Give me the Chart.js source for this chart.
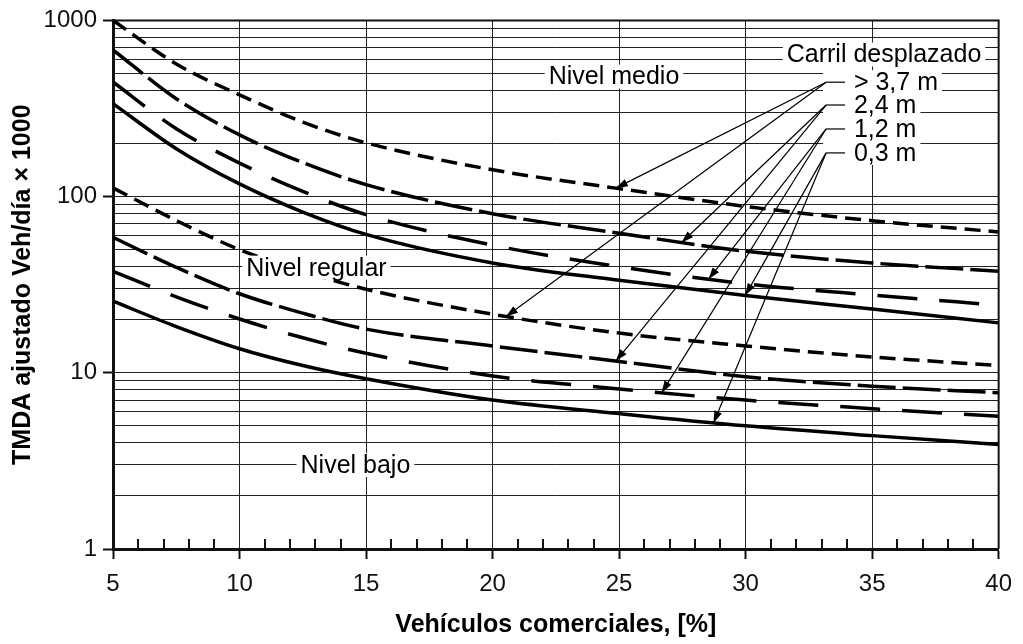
<!DOCTYPE html>
<html>
<head>
<meta charset="utf-8">
<script src="https://cdn.jsdelivr.net/npm/chart.js@4.4.1/dist/chart.umd.min.js"></script>
<style>
  html, body { margin: 0; padding: 0; background: #fff; }
  canvas { display: block; }
</style>
</head>
<body>
<canvas id="chart" width="1023" height="644"></canvas>
<script>
// ---------- values ----------
const commercialPct = [5, 7.5, 10, 12.5, 15, 20, 25, 30, 35, 40];

// upper family (limit Nivel medio / Nivel regular)
const upperOver37 = [1000, 566, 378, 265, 202, 142, 111, 88, 73, 63];
const upper24 = [680, 359, 224, 156, 117, 80, 62, 49, 42, 37.7];
const upper12 = [447, 243, 155, 107, 79, 53, 40, 32, 27.6, 24.2];
const upper03 = [337, 187, 118, 81.7, 61, 42, 33.5, 27.5, 23, 19.2];

// lower family (limit Nivel regular / Nivel bajo)
const lowerOver37 = [112, 73.2, 50, 37.7, 29.8, 21.5, 16.8, 14.2, 12.3, 11.0];
const lower24 = [58.7, 39.7, 28.1, 21.8, 17.7, 14.2, 11.6, 9.5, 8.4, 7.7];
const lower12 = [37.7, 27.0, 20.2, 15.8, 12.9, 9.6, 8.1, 7.0, 6.26, 5.67];
const lower03 = [25.5, 18.3, 13.7, 11.0, 9.25, 7.0, 5.87, 5.0, 4.4, 3.92];

const offsetNames = ['> 3,7 m', '2,4 m', '1,2 m', '0,3 m'];
const yGridValues = [1, 2, 3, 4, 5, 6, 7, 8, 9,
                     10, 20, 30, 40, 50, 60, 70, 80, 90,
                     100, 200, 300, 400, 500, 600, 700, 800, 900, 1000];
const yTickLabels = [1, 10, 100, 1000];
const xTickLabels = [5, 10, 15, 20, 25, 30, 35, 40];

const xTitle = 'Vehículos comerciales, [%]';
const yTitle = 'TMDA ajustado Veh/día × 1000';

// ---------- annotations (data coordinates) ----------
const levelLabels = [
    { text: 'Nivel medio', x: 24.8, y: 480 },
    { text: 'Nivel regular', x: 13.04, y: 39.5 },
    { text: 'Nivel bajo', x: 14.58, y: 3 },
    { text: 'Carril desplazado', x: 35.47, y: 640 }
];
const offsetLabelY = [446, 331, 242, 177];
const stubFromX = 33.18, stubToX = 33.93, offsetTextX = 34.28;
// arrow end points: x on the upper curve, x on the lower curve
const arrowTargetX = [[24.87, 20.53], [27.47, 24.87], [28.53, 26.68], [29.99, 28.73]];

const FONT = '"Liberation Sans", Arial, Helvetica, sans-serif';
Chart.defaults.font.family = FONT;
Chart.defaults.color = '#111';

const dashes = [[16, 8], [38, 7], [40, 22], []];
const families = [
    [upperOver37, upper24, upper12, upper03],
    [lowerOver37, lower24, lower12, lower03]
];

const datasets = [];
families.forEach((fam, f) => {
    fam.forEach((vals, k) => {
        datasets.push({
            label: (f === 0 ? 'Medio/Regular ' : 'Regular/Bajo ') + offsetNames[k],
            data: commercialPct.map((x, i) => ({ x, y: vals[i] })),
            borderColor: '#000',
            borderWidth: 3.5,
            borderDash: dashes[k],
            pointRadius: 0,
            fill: false,
            cubicInterpolationMode: 'monotone'
        });
    });
});

function cubic(p0, p1, p2, p3, t) {
    const u = 1 - t;
    return u * u * u * p0 + 3 * u * u * t * p1 + 3 * u * t * t * p2 + t * t * t * p3;
}

// y pixel of the drawn curve at a given x value
function curveY(chart, dsIndex, xVal) {
    const px = chart.scales.x.getPixelForValue(xVal);
    const pts = chart.getDatasetMeta(dsIndex).data;
    for (let i = 0; i < pts.length - 1; i++) {
        const a = pts[i], b = pts[i + 1];
        if (px >= a.x && px <= b.x) {
            let lo = 0, hi = 1;
            for (let n = 0; n < 40; n++) {
                const m = (lo + hi) / 2;
                if (cubic(a.x, a.cp2x, b.cp1x, b.x, m) < px) lo = m; else hi = m;
            }
            const t = (lo + hi) / 2;
            return { x: px, y: cubic(a.y, a.cp2y, b.cp1y, b.y, t) };
        }
    }
    return { x: px, y: chart.scales.y.getPixelForValue(1) };
}

function labelBox(ctx, text, x, y, align, extraLeft) {
    const w = ctx.measureText(text).width;
    const left = align === 'center' ? x - w / 2 : x;
    const boxLeft = left - 4 - (extraLeft || 0);
    ctx.fillStyle = '#fff';
    ctx.fillRect(boxLeft, y - 12, w + 8 + (extraLeft || 0), 24);
    ctx.fillStyle = '#000';
    ctx.textAlign = align;
    ctx.textBaseline = 'middle';
    ctx.fillText(text, x, y + 1);
}

function arrow(ctx, x0, y0, x1, y1) {
    ctx.beginPath();
    ctx.moveTo(x0, y0);
    ctx.lineTo(x1, y1);
    ctx.stroke();
    const ang = Math.atan2(y1 - y0, x1 - x0);
    const len = 12, half = 4;
    ctx.beginPath();
    ctx.moveTo(x1, y1);
    ctx.lineTo(x1 - len * Math.cos(ang) + half * Math.sin(ang), y1 - len * Math.sin(ang) - half * Math.cos(ang));
    ctx.lineTo(x1 - len * Math.cos(ang) - half * Math.sin(ang), y1 - len * Math.sin(ang) + half * Math.cos(ang));
    ctx.closePath();
    ctx.fill();
}

const annotations = {
    id: 'annotations',
    afterDatasetsDraw(chart) {
        const { ctx, scales: { x, y } } = chart;
        ctx.save();
        ctx.font = '25px ' + FONT;

        levelLabels.forEach(l => {
            labelBox(ctx, l.text, x.getPixelForValue(l.x), y.getPixelForValue(l.y), 'center');
        });

        const sx0 = x.getPixelForValue(stubFromX);
        const sx1 = x.getPixelForValue(stubToX);
        const tx = x.getPixelForValue(offsetTextX);
        offsetNames.forEach((name, k) => {
            const py = y.getPixelForValue(offsetLabelY[k]);
            labelBox(ctx, name, tx, py, 'left', tx - sx0 - 1);
        });

        ctx.strokeStyle = '#000';
        ctx.fillStyle = '#000';
        ctx.lineWidth = 1.2;
        offsetNames.forEach((name, k) => {
            const py = y.getPixelForValue(offsetLabelY[k]);
            ctx.beginPath();
            ctx.moveTo(sx0, py);
            ctx.lineTo(sx1, py);
            ctx.stroke();
            [0, 1].forEach(f => {
                const p = curveY(chart, f * 4 + k, arrowTargetX[k][f]);
                arrow(ctx, sx0, py, p.x, p.y);
            });
        });
        ctx.restore();
    },
    afterDraw(chart) {
        const { ctx, chartArea: a, scales: { x } } = chart;
        ctx.save();
        ctx.strokeStyle = '#111';
        ctx.lineWidth = 2;
        ctx.beginPath();
        ctx.moveTo(a.left, a.top);
        ctx.lineTo(a.right, a.top);
        ctx.lineTo(a.right, a.bottom);
        ctx.stroke();
        // small inner ticks at every 1 %
        for (let v = 6; v < 40; v++) {
            if (v % 5 === 0) continue;
            const px = Math.round(x.getPixelForValue(v));
            ctx.beginPath();
            ctx.moveTo(px, a.bottom);
            ctx.lineTo(px, a.bottom - 10);
            ctx.stroke();
        }
        ctx.restore();
    }
};

new Chart(document.getElementById('chart'), {
    type: 'line',
    data: { datasets },
    options: {
        responsive: false,
        animation: false,
        layout: { padding: { left: 0, right: 22, top: 18, bottom: 0 } },
        plugins: { legend: { display: false }, tooltip: { enabled: false } },
        scales: {
            x: {
                type: 'linear',
                min: 5,
                max: 40,
                afterFit: axis => { axis.height = 95; },
                ticks: {
                    stepSize: 1,
                    autoSkip: false,
                    maxRotation: 0,
                    padding: 11,
                    font: { size: 24 },
                    callback: v => xTickLabels.includes(v) ? String(v) : ''
                },
                grid: {
                    color: c => c.tick && xTickLabels.includes(c.tick.value) ? '#222' : 'rgba(0,0,0,0)',
                    lineWidth: 1,
                    tickLength: 10,
                    tickWidth: 2,
                    tickColor: c => c.tick && xTickLabels.includes(c.tick.value) ? '#111' : 'rgba(0,0,0,0)'
                },
                border: { color: '#111', width: 3 },
                title: {
                    display: true,
                    text: xTitle,
                    color: '#000',
                    font: { size: 25, weight: 'bold' },
                    padding: { top: 0, bottom: 4 }
                }
            },
            y: {
                type: 'logarithmic',
                min: 1,
                max: 1000,
                afterFit: axis => { axis.width = 113; },
                afterBuildTicks: axis => { axis.ticks = yGridValues.map(v => ({ value: v })); },
                ticks: {
                    autoSkip: false,
                    padding: 6,
                    font: { size: 24 },
                    callback: v => yTickLabels.includes(v) ? String(v) : ''
                },
                grid: {
                    color: '#222',
                    lineWidth: 1,
                    tickLength: 10,
                    tickWidth: 2,
                    tickColor: c => c.tick && yTickLabels.includes(c.tick.value) ? '#111' : 'rgba(0,0,0,0)'
                },
                border: { color: '#111', width: 3 },
                title: {
                    display: true,
                    text: yTitle,
                    color: '#000',
                    font: { size: 25, weight: 'bold' },
                    padding: { top: 8, bottom: 0 }
                }
            }
        }
    },
    plugins: [annotations]
});
</script>
</body>
</html>
